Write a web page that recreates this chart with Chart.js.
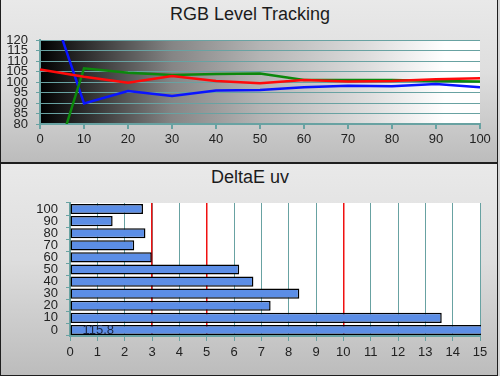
<!DOCTYPE html>
<html>
<head>
<meta charset="utf-8">
<script src="https://cdn.jsdelivr.net/npm/chart.js@4/dist/chart.umd.min.js"></script>
<style>
  html, body { margin:0; padding:0; }
  body { width:500px; height:376px; overflow:hidden; background:#d6d6d6; font-family: Arial, "Liberation Sans", sans-serif; }
  #frame { position:relative; width:500px; height:376px; }
  .panel { position:absolute; left:0; width:498px; box-sizing:border-box;
           border-left:1px solid #1e1e1e; border-right:1px solid #1e1e1e; border-bottom:1px solid #1e1e1e;
           background:linear-gradient(to bottom, #e9e9e9 0%, #dedede 45%, #bcbcbc 100%); }
  #topPanel { top:0; height:163px; }
  #botPanel { top:163px; height:213px; border-top:1px solid #1e1e1e; }
  .title { position:absolute; left:0; width:500px; text-align:center; font-size:18px; line-height:18px; color:#1c1c1c; }
  canvas { position:absolute; left:0; }
</style>
</head>
<body>
<div id="frame">
  <div class="panel" id="topPanel"></div>
  <div class="panel" id="botPanel"></div>
  <div class="title" style="top:5px">RGB Level Tracking</div>
  <div class="title" style="top:168px">DeltaE uv</div>
  <canvas id="rgbChart" width="500" height="162" style="top:0"></canvas>
  <canvas id="deChart" width="500" height="211" style="top:164px"></canvas>
</div>
<script>
// stimulus levels (% IRE)
const levels = [0, 10, 20, 30, 40, 50, 60, 70, 80, 90, 100];

// RGB tracking, %
const redLevel   = [106, 102.5, 99.7, 102.9, 100.5, 99.4, 101, 100.2, 100.5, 101.3, 101.8];
const greenLevel = [39, 106.5, 104.4, 103.3, 103.8, 104, 101, 101, 101, 100.5, 100.2];
const blueLevel  = [152, 89.8, 95.7, 93.3, 95.9, 96.2, 97.5, 98.2, 98, 99, 97.5];

// deltaE uv per level (0 .. 100)
const deltaE = [115.8, 13.6, 7.34, 8.39, 6.71, 6.19, 2.99, 2.35, 2.76, 1.56, 2.67];
const deltaLimits = [3, 5, 10];

const TEAL = '#68a2a2';

Chart.defaults.font.family = 'Arial, "Liberation Sans", sans-serif';
Chart.defaults.font.size = 13;
Chart.defaults.color = '#222';

const plotBg = {
  id:'plotBg',
  beforeDraw(chart, args, opts){
    const {ctx, chartArea:a} = chart;
    ctx.save();
    if(opts.gradient){
      const g = ctx.createLinearGradient(a.left, 0, a.right, 0);
      g.addColorStop(0, '#000');
      g.addColorStop(0.1, '#2c2c2c');
      g.addColorStop(0.3, '#858585');
      g.addColorStop(0.5, '#b4b4b4');
      g.addColorStop(0.75, '#dedede');
      g.addColorStop(0.92, '#fff');
      g.addColorStop(1, '#fff');
      ctx.fillStyle = g;
    } else {
      ctx.fillStyle = opts.color || '#fff';
    }
    ctx.fillRect(a.left, a.top, a.right - a.left, a.bottom - a.top);
    ctx.restore();
  }
};

const overflowLabel = {
  id:'overflowLabel',
  afterDatasetsDraw(chart){
    const ctx = chart.ctx;
    const xs = chart.scales.x;
    chart.getDatasetMeta(0).data.forEach((bar, i)=>{
      const v = chart.data.datasets[0].data[i];
      if(v <= xs.max) return;
      ctx.save();
      ctx.font = '13px Arial, "Liberation Sans", sans-serif';
      ctx.fillStyle = '#1c2640';
      ctx.textBaseline = 'middle';
      ctx.fillText(v.toFixed(1), bar.base + 12, bar.y);
      ctx.restore();
    });
  }
};

new Chart(document.getElementById('rgbChart'), {
  type:'line',
  data:{
    labels: levels,
    datasets:[
      { label:'Red', data: levels.map((l,i)=>({x:l, y:redLevel[i]})), borderColor:'#ff0a0a' },
      { label:'Green', data: levels.map((l,i)=>({x:l, y:greenLevel[i]})), borderColor:'#0c880c' },
      { label:'Blue', data: levels.map((l,i)=>({x:l, y:blueLevel[i]})), borderColor:'#0a14ff' }
    ]
  },
  options:{
    responsive:false,
    animation:false,
    layout:{ padding:{ left:0, right:20, top:40, bottom:0 } },
    elements:{
      point:{ radius:0 },
      line:{ borderWidth:2.5, tension:0, fill:false }
    },
    plugins:{ legend:{display:false}, tooltip:{enabled:false}, plotBg:{gradient:true} },
    scales:{
      x:{
        type:'linear', min:0, max:100,
        ticks:{ stepSize:10, padding:3, maxRotation:0 },
        grid:{ drawOnChartArea:false, color:TEAL, tickLength:5, lineWidth:2 },
        border:{ color:TEAL, width:2 },
        afterFit(s){ s.height = 38; }
      },
      y:{
        min:80, max:120,
        ticks:{ stepSize:5, padding:8, autoSkip:false },
        grid:{ color:TEAL, tickLength:4, lineWidth:1 },
        border:{ color:TEAL, width:2 },
        afterFit(s){ s.width = 40; }
      }
    }
  },
  plugins:[plotBg]
});

new Chart(document.getElementById('deChart'), {
  type:'bar',
  data:{
    labels: levels,
    datasets:[{
      label:'DeltaE uv',
      data: deltaE,
      backgroundColor:'#5c8ee6',
      borderColor:'#000',
      borderWidth:1.5,
      borderSkipped:false,
      categoryPercentage:1,
      barPercentage:0.84,
      clip:1
    }]
  },
  options:{
    indexAxis:'y',
    responsive:false,
    animation:false,
    layout:{ padding:{ left:0, right:20, top:39, bottom:0 } },
    plugins:{ legend:{display:false}, tooltip:{enabled:false}, plotBg:{color:'#fff'} },
    scales:{
      x:{
        type:'linear', min:0, max:15,
        ticks:{ stepSize:1, padding:4, maxRotation:0, autoSkip:false },
        grid:{ color:TEAL, tickLength:5, lineWidth:1 },
        border:{ color:TEAL, width:2 },
        afterFit(s){ s.height = 39; }
      },
      x2:{
        type:'linear', position:'bottom', min:0, max:15, z:1,
        afterBuildTicks(s){ s.ticks = deltaLimits.map(v=>({value:v})); },
        ticks:{ display:false },
        grid:{ color:'#f01010', lineWidth:1.5, drawTicks:false },
        border:{ display:false },
        afterFit(s){ s.height = 0; }
      },
      y:{
        reverse:true,
        ticks:{ padding:8, autoSkip:false },
        grid:{ drawOnChartArea:false, color:TEAL, tickLength:4 },
        border:{ color:TEAL, width:2 },
        afterFit(s){ s.width = 70; }
      }
    }
  },
  plugins:[plotBg, overflowLabel]
});
</script>
</body>
</html>
